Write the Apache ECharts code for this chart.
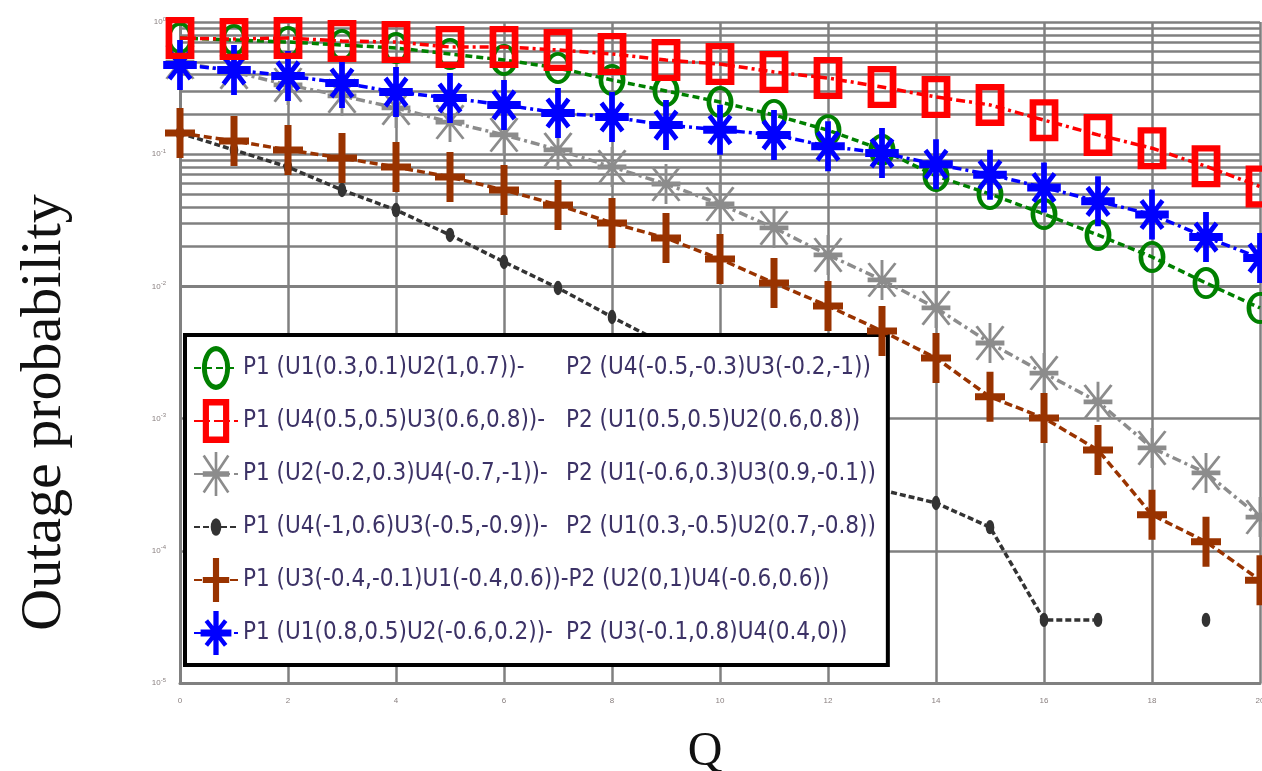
<!DOCTYPE html>
<html><head><meta charset="utf-8">
<script src="https://cdn.jsdelivr.net/npm/echarts@6/dist/echarts.min.js"></script>
<style>html,body{margin:0;padding:0;background:#fff}#c{width:1262px;height:771px}</style>
</head><body><div id="c"></div>
<script>
// ---- data ----
const qValues = [0,1,2,3,4,5,6,7,8,9,10,11,12,13,14,15,16,17,18,19,20];
const xTicks = [0,2,4,6,8,10,12,14,16,18,20];
const greenP = [0.757,0.731,0.706,0.670,0.636,0.573,0.516,0.449,0.364,0.301,0.248,0.198,0.152,0.108,0.0684,0.050,0.0353,0.0245,0.0167,0.0106,0.00687];
const redP   = [0.757,0.743,0.757,0.718,0.706,0.647,0.647,0.614,0.573,0.516,0.481,0.419,0.377,0.322,0.271,0.236,0.181,0.140,0.111,0.081,0.057];
const grayP  = [0.498,0.419,0.334,0.276,0.224,0.175,0.140,0.108,0.080,0.0595,0.042,0.0277,0.0173,0.0112,0.00687,0.00373,0.00221,0.00134,0.0006,0.000388,0.00018];
const darkP  = [0.1446,0.1076,0.080,0.0536,0.0378,0.0245,0.0153,0.00973,0.00587,0.0036,0.00196,0.00106,0.000559,0.000288,0.00023,0.000151,0.00003,0.00003,null,0.00003,null];
const brownP = [0.1446,0.126,0.1076,0.0936,0.080,0.0672,0.0536,0.0413,0.0302,0.0232,0.0161,0.0106,0.00711,0.0046,0.00287,0.00146,0.00101,0.000578,0.000187,0.000117,0.000060];
const blueP  = [0.473,0.433,0.391,0.346,0.295,0.266,0.236,0.205,0.191,0.166,0.153,0.140,0.115,0.102,0.084,0.070,0.056,0.044,0.035,0.0236,0.0164];
const p1Labels = ['P1 (U1(0.3,0.1)U2(1,0.7))-','P1 (U4(0.5,0.5)U3(0.6,0.8))-','P1 (U2(-0.2,0.3)U4(-0.7,-1))-','P1 (U4(-1,0.6)U3(-0.5,-0.9))-','P1 (U3(-0.4,-0.1)U1(-0.4,0.6))-','P1 (U1(0.8,0.5)U2(-0.6,0.2))-'];
const p2Labels = ['P2 (U4(-0.5,-0.3)U3(-0.2,-1))','P2 (U1(0.5,0.5)U2(0.6,0.8))','P2 (U1(-0.6,0.3)U3(0.9,-0.1))','P2 (U1(0.3,-0.5)U2(0.7,-0.8))','P2 (U2(0,1)U4(-0.6,0.6))','P2 (U3(-0.1,0.8)U4(0.4,0))'];
const decades = [1e-5,1e-4,1e-3,1e-2,1e-1];
const minorMultipliers = [2,3,4,5,6,7,8,9];
const xName = 'Q';
const yName = 'Outage probability';

// ---- marker shapes (100x100 box, padded) ----
const PAD = 'M0 0 M100 100 ';
const ringEllipse = 'path://' + PAD + 'M50 0 A32 50 0 1 1 50 100 A32 50 0 1 1 50 0 Z M50 12 A21 38 0 1 0 50 88 A21 38 0 1 0 50 12 Z';
const ringRect = 'path://' + PAD + 'M20 0 L80 0 L80 100 L20 100 Z M34 15 L34 85 L66 85 L66 15 Z';
const asterisk = 'path://' + PAD + 'M47 0 L53 0 L53 100 L47 100 Z M20 44 L80 44 L80 56 L20 56 Z M24.5 6.3 L80.5 90.3 L75.5 93.7 L19.5 9.7 Z M80.5 9.7 L24.5 93.7 L19.5 90.3 L75.5 6.3 Z';
const dot = 'path://' + PAD + 'M50 30 A12 20 0 1 1 50 70 A12 20 0 1 1 50 30 Z';
const plusMk = 'path://' + PAD + 'M43 0 L57 0 L57 100 L43 100 Z M20 43 L80 43 L80 57 L20 57 Z';
const starMk = 'path://' + PAD + 'M44 0 L56 0 L56 100 L44 100 Z M15 42 L85 42 L85 58 L15 58 Z M31.9 18.9 L75.9 74.9 L68.1 81.1 L24.1 25.1 Z M75.9 25.1 L31.9 81.1 L24.1 74.9 L68.1 18.9 Z';

const minorGridValues = [];
decades.forEach(d => minorMultipliers.forEach(m => minorGridValues.push(m * d)));

const names = p1Labels.map((p, i) => p + ' ' + p2Labels[i]);
function pts(arr) { return qValues.map((q, i) => [q, arr[i]]); }

const gridColor = '#808080';
function mkSeries(idx, arr, color, symbol, size, dash, width, z) {
  return {
    name: names[idx], type: 'line', data: pts(arr), z: z, clip: false,
    symbol: symbol, symbolSize: size, showAllSymbol: true, connectNulls: false,
    lineStyle: { color: color, width: width, type: dash },
    itemStyle: { color: color, borderWidth: 0 },
    emphasis: { disabled: true }
  };
}
const series = [
  mkSeries(0, greenP, '#008000', ringEllipse, [42, 32], [7, 4], 3.5, 5),
  mkSeries(1, redP, '#ff0000', ringRect, [48, 42], [9, 4, 3, 4], 3.5, 7),
  mkSeries(2, grayP, '#8c8c8c', asterisk, [48, 40], [9, 4, 3, 4], 3.5, 3),
  mkSeries(3, darkP, '#333333', dot, [36, 36], [6, 3], 3.5, 2),
  mkSeries(4, brownP, '#993300', plusMk, [50, 50], [8, 4], 3.5, 4),
  mkSeries(5, blueP, '#0000ff', starMk, [48, 50], [9, 4, 3, 4], 3.5, 6)
];
series[0].markLine = {
  silent: true, symbol: ['none', 'none'], animation: false, z: 1,
  label: { show: false },
  lineStyle: { color: gridColor, width: 2.5, type: 'solid' },
  emphasis: { disabled: true },
  data: minorGridValues.map(v => ({ yAxis: v }))
};

const legendFont = "'Liberation Sans Narrow','DejaVu Sans Condensed','Arial Narrow',sans-serif";
const chart = echarts.init(document.getElementById('c'));
chart.setOption({
  animation: false,
  backgroundColor: '#ffffff',
  grid: { left: 180, right: 2, top: 22, bottom: 88, containLabel: false, outerBoundsMode: 'none' },
  xAxis: {
    type: 'value', min: 0, max: 20, interval: 2,
    name: xName, nameLocation: 'middle', nameGap: 45,
    nameTextStyle: { fontFamily: 'Liberation Serif', fontSize: 48, color: '#111', padding: [0, 30, 0, 0] },
    axisLine: { show: true, lineStyle: { color: gridColor, width: 3 } },
    axisTick: { show: false },
    axisLabel: { fontSize: 8, color: '#8a8080', margin: 14, formatter: v => xTicks.includes(v) ? String(v) : '' },
    splitLine: { show: true, lineStyle: { color: gridColor, width: 2.5 } }
  },
  yAxis: {
    type: 'log', logBase: 10, min: 1e-5, max: 1,
    name: yName, nameLocation: 'middle', nameGap: 106, nameRotate: 90,
    nameTextStyle: { fontFamily: 'Liberation Serif', fontSize: 58, color: '#111', padding: [0, 120, 0, 0] },
    axisLine: { show: true, lineStyle: { color: gridColor, width: 3 } },
    axisTick: { show: false },
    axisLabel: {
      margin: 14, color: '#8a8080',
      formatter: v => '{b|10}{s|' + Math.round(Math.log10(v)) + '}',
      rich: { b: { fontSize: 8, color: '#8a8080' }, s: { fontSize: 6, color: '#8a8080', padding: [0, 0, 6, 0] } }
    },
    splitLine: { show: true, lineStyle: { color: gridColor, width: 2.5 } }
  },
  legend: {
    orient: 'vertical', left: 185, top: 335,
    backgroundColor: '#ffffff', borderColor: '#000000', borderWidth: 4,
    padding: [11, 12, 10, 8], itemWidth: 44, itemHeight: 55, itemGap: 9,
    selectedMode: false,
    data: names,
    formatter: function (name) {
      const i = names.indexOf(name);
      if (i === 4) return '{t|' + p1Labels[i] + p2Labels[i] + '}';
      return '{a|' + p1Labels[i] + '}{t|' + p2Labels[i] + '}';
    },
    textStyle: {
      fontFamily: legendFont, fontSize: 24, color: '#3c3266',
      rich: {
        a: { width: 323, fontSize: 24, fontFamily: legendFont, color: '#3c3266' },
        t: { fontSize: 24, fontFamily: legendFont, color: '#3c3266' }
      }
    }
  },
  series: series
});
</script></body></html>
